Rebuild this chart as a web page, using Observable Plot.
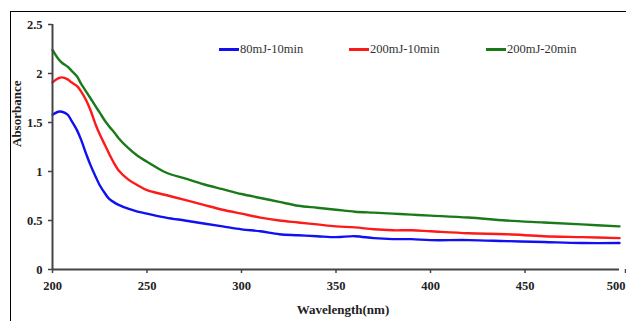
<!DOCTYPE html>
<html>
<head>
<meta charset="utf-8">
<script src="https://cdn.jsdelivr.net/npm/d3@7"></script>
<script src="https://cdn.jsdelivr.net/npm/@observablehq/plot@0.6"></script>
<style>
  html, body { margin: 0; padding: 0; background: #fff; overflow: hidden; width: 626px; height: 321px; }
  #wrap { position: relative; width: 626px; height: 321px; overflow: hidden; }
  #frame { position: absolute; left: 10px; top: 11px; width: 700px; height: 400px; border-left: 1.5px solid #000; border-top: 1.5px solid #000; box-sizing: border-box; }
  #chart { position: absolute; left: 0; top: 0; width: 680px; height: 321px; }
  #chart svg { max-width: none !important; }
  #legend { position: absolute; top: 42px; left: 0; font-family: "Liberation Serif", serif; font-size: 12.5px; color: #333; }
  .item { position: absolute; display: flex; align-items: center; white-space: nowrap; }
  .sw { display: inline-block; width: 20px; height: 2.5px; margin-right: 1px; }
</style>
</head>
<body>
<div id="wrap">
  <div id="frame"></div>
  <div id="chart"></div>
  <div id="legend"></div>
</div>
<script>
const seriesNames = ["80mJ-10min", "200mJ-10min", "200mJ-20min"];
const seriesColors = ["#1010f0", "#ff1a1a", "#1a7a1a"];
const wavelength = [200, 203, 205, 208, 210, 213, 215, 218, 220, 223, 225, 228, 230, 233, 235, 240, 245, 250, 260, 270, 280, 290, 300, 310, 320, 330, 340, 350, 360, 370, 380, 390, 400, 420, 440, 460, 480, 500];
const abs80_10 = [1.58, 1.61, 1.61, 1.58, 1.52, 1.42, 1.33, 1.17, 1.07, 0.94, 0.86, 0.77, 0.72, 0.68, 0.66, 0.62, 0.59, 0.57, 0.53, 0.50, 0.47, 0.44, 0.41, 0.39, 0.36, 0.35, 0.34, 0.33, 0.34, 0.32, 0.31, 0.31, 0.30, 0.30, 0.29, 0.28, 0.27, 0.27];
const abs200_10 = [1.91, 1.95, 1.96, 1.94, 1.91, 1.87, 1.82, 1.72, 1.63, 1.47, 1.38, 1.26, 1.18, 1.07, 1.01, 0.92, 0.86, 0.81, 0.76, 0.71, 0.66, 0.61, 0.57, 0.53, 0.50, 0.48, 0.46, 0.44, 0.43, 0.41, 0.40, 0.40, 0.39, 0.37, 0.36, 0.34, 0.33, 0.32];
const abs200_20 = [2.24, 2.15, 2.11, 2.07, 2.03, 1.97, 1.90, 1.81, 1.75, 1.66, 1.60, 1.51, 1.46, 1.39, 1.34, 1.24, 1.16, 1.10, 0.99, 0.93, 0.87, 0.82, 0.77, 0.73, 0.69, 0.65, 0.63, 0.61, 0.59, 0.58, 0.57, 0.56, 0.55, 0.53, 0.50, 0.48, 0.46, 0.44];
const xTicks = [200, 250, 300, 350, 400, 450, 500];
const yTicks = [0, 0.5, 1, 1.5, 2, 2.5];
const xTitle = "Wavelength(nm)";
const yTitle = "Absorbance";

const allSeries = [abs80_10, abs200_10, abs200_20];
const data = [];
allSeries.forEach((vals, si) => {
  vals.forEach((v, i) => data.push({series: seriesNames[si], wl: wavelength[i], a: v}));
});

const axisColor = "#444";
const tickFont = {fontFamily: "'Liberation Serif', serif", fontSize: 12.5, fontWeight: "bold", fill: "#222"};
const lastTick = xTicks[xTicks.length - 1];

const chart = Plot.plot({
  width: 680,
  height: 321,
  marginLeft: 52,
  marginRight: 61,
  marginTop: 24,
  marginBottom: 52,
  style: {background: "transparent", overflow: "visible", maxWidth: "none"},
  x: {domain: [200, 500], axis: null},
  y: {domain: [0, 2.5], axis: null},
  color: {domain: seriesNames, range: seriesColors},
  marks: [
    Plot.line(data, {x: "wl", y: "a", z: "series", stroke: "series", strokeWidth: 2.4, curve: "catmull-rom"}),
    Plot.axisX({ticks: xTicks.slice(0, -1), tickSize: 4, tickPadding: 8, stroke: axisColor, strokeWidth: 1.5, tickFormat: d => String(d), label: null, ...tickFont}),
    Plot.axisX({ticks: [lastTick], tickSize: 4, tickPadding: 8, stroke: axisColor, strokeWidth: 1.5, tickFormat: d => String(d), label: null, textAnchor: "end", dx: 6, ...tickFont}),
    Plot.axisY({ticks: yTicks, tickSize: 4, tickPadding: 6, stroke: axisColor, strokeWidth: 1.5, tickFormat: d => String(d), label: null, ...tickFont}),
    Plot.ruleX([200], {stroke: axisColor, strokeWidth: 2}),
    Plot.ruleY([0], {stroke: axisColor, strokeWidth: 2}),
    Plot.text([xTitle], {frameAnchor: "bottom", dy: 44, dx: 7, fontFamily: "'Liberation Serif', serif", fontSize: 13, fontWeight: "bold", fill: "#222", letterSpacing: "1px"}),
    Plot.text([yTitle], {frameAnchor: "left", dx: -36, rotate: -90, fontFamily: "'Liberation Serif', serif", fontSize: 13, fontWeight: "bold", fill: "#222", letterSpacing: "0.5px"})
  ]
});
chart.style.maxWidth = "none";
chart.setAttribute("width", 680);
document.getElementById("chart").appendChild(chart);

const legendX = [219, 349, 486];
const legend = document.getElementById("legend");
seriesNames.forEach((name, i) => {
  const it = document.createElement("div");
  it.className = "item";
  it.style.left = legendX[i] + "px";
  const sw = document.createElement("span");
  sw.className = "sw";
  sw.style.background = seriesColors[i];
  const tx = document.createElement("span");
  tx.textContent = name;
  it.appendChild(sw);
  it.appendChild(tx);
  legend.appendChild(it);
});
</script>
</body>
</html>
